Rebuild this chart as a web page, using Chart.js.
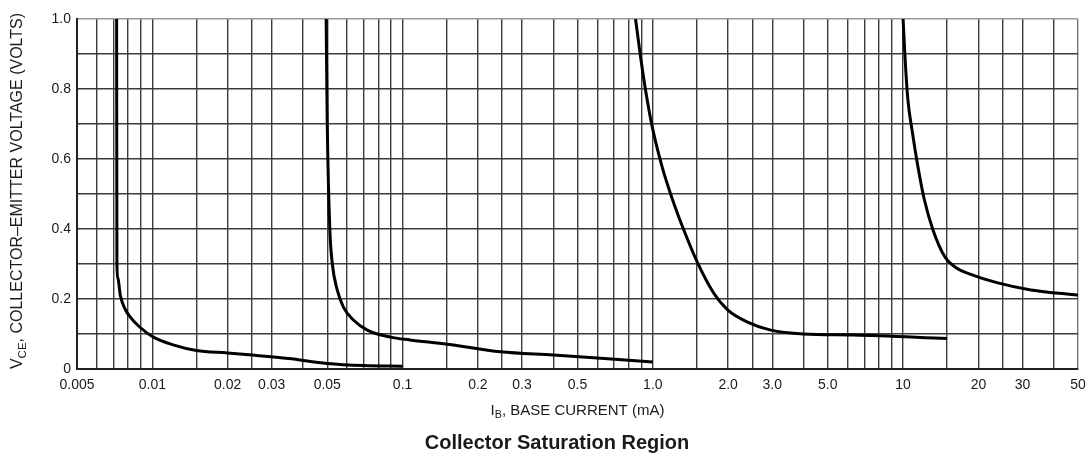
<!DOCTYPE html>
<html>
<head>
<meta charset="utf-8">
<script src="https://cdn.jsdelivr.net/npm/chart.js@4.4.1/dist/chart.umd.min.js"></script>
<style>
  html, body { margin: 0; padding: 0; background: #fff; }
  #wrap { width: 1089px; height: 459px; }
</style>
</head>
<body>
<div id="wrap"><canvas id="chartOne" width="1089" height="459"></canvas></div>
<script>
// IB (mA) and VCE (V), one pair of arrays per curve
const curveOneIB  = [0.0072, 0.00722, 0.00728, 0.00745, 0.0078, 0.00815, 0.0089, 0.0101, 0.0121, 0.015, 0.02, 0.025, 0.035, 0.05, 0.07, 0.1];
const curveOneVCE = [1.0, 0.30, 0.26, 0.21, 0.17, 0.149, 0.12, 0.091, 0.069, 0.053, 0.046, 0.040, 0.030, 0.016, 0.010, 0.008];

const curveTwoIB  = [0.0495, 0.0500, 0.0512, 0.0524, 0.0548, 0.058, 0.0636, 0.0723, 0.0893, 0.107, 0.151, 0.246, 0.40, 0.62, 1.0];
const curveTwoVCE = [1.0, 0.7, 0.4, 0.30, 0.226, 0.177, 0.14, 0.111, 0.091, 0.083, 0.071, 0.049, 0.040, 0.031, 0.020];

const curveThreeIB  = [0.853, 0.89, 0.935, 0.995, 1.09, 1.2, 1.33, 1.51, 1.75, 1.99, 2.39, 2.96, 4.0, 6.35, 15];
const curveThreeVCE = [1.0, 0.9, 0.797, 0.691, 0.577, 0.483, 0.397, 0.303, 0.217, 0.169, 0.134, 0.111, 0.100, 0.097, 0.087];

const curveFourIB  = [10.0, 10.2, 10.45, 10.9, 11.45, 12.15, 13.2, 14.7, 16.4, 18.4, 23.9, 32.4, 50];
const curveFourVCE = [1.0, 0.88, 0.77, 0.675, 0.58, 0.485, 0.395, 0.32, 0.288, 0.272, 0.246, 0.226, 0.211];

// tick labels
const xTickValues = [0.005, 0.01, 0.02, 0.03, 0.05, 0.1, 0.2, 0.3, 0.5, 1, 2, 3, 5, 10, 20, 30, 50];
const xTickText   = ['0.005', '0.01', '0.02', '0.03', '0.05', '0.1', '0.2', '0.3', '0.5', '1.0', '2.0', '3.0', '5.0', '10', '20', '30', '50'];
const yTickValues = [0, 0.2, 0.4, 0.6, 0.8, 1.0];
const yTickText   = ['0', '0.2', '0.4', '0.6', '0.8', '1.0'];

// grid lines of the log paper
const xGrid = [0.005, 0.006, 0.007, 0.008, 0.009,
    0.01, 0.015, 0.02, 0.025, 0.03, 0.04, 0.05, 0.06, 0.07, 0.08, 0.09,
    0.1, 0.15, 0.2, 0.25, 0.3, 0.4, 0.5, 0.6, 0.7, 0.8, 0.9,
    1, 1.5, 2, 2.5, 3, 4, 5, 6, 7, 8, 9,
    10, 15, 20, 25, 30, 40, 50];
const yGrid = [0, 0.1, 0.2, 0.3, 0.4, 0.5, 0.6, 0.7, 0.8, 0.9, 1.0];

function toPoints(xs, ys) {
    return xs.map((x, i) => ({ x: x, y: ys[i] }));
}

function findText(values, texts, v) {
    for (let i = 0; i < values.length; i++) {
        if (Math.abs(values[i] - v) < 1e-9 + values[i] * 1e-6) return texts[i];
    }
    return '';
}

function curve(label, xs, ys) {
    return {
        label: label,
        data: toPoints(xs, ys),
        borderColor: '#000',
        borderWidth: 3,
        pointRadius: 0,
        fill: false,
        cubicInterpolationMode: 'monotone'
    };
}

// draws a string made of parts, some of them subscripts, centred on (cx, cy)
function drawParts(ctx, parts, cx, cy, size, weight) {
    const family = '"Liberation Sans", Arial, sans-serif';
    let total = 0;
    parts.forEach(p => {
        ctx.font = weight + ' ' + (p.sub ? size * 0.72 : size) + 'px ' + family;
        p.w = ctx.measureText(p.t).width;
        total += p.w;
    });
    let x = cx - total / 2;
    ctx.textBaseline = 'middle';
    ctx.textAlign = 'left';
    parts.forEach(p => {
        ctx.font = weight + ' ' + (p.sub ? size * 0.72 : size) + 'px ' + family;
        ctx.fillText(p.t, x, p.sub ? cy + size * 0.3 : cy);
        x += p.w;
    });
}

const titlesPlugin = {
    id: 'titles',
    afterDraw(chart) {
        const ctx = chart.ctx;
        const area = chart.chartArea;
        ctx.save();
        ctx.fillStyle = '#1a1a1a';
        drawParts(ctx, [{ t: 'I' }, { t: 'B', sub: true }, { t: ', BASE CURRENT (mA)' }],
            (area.left + area.right) / 2, 411, 15, 'normal');
        drawParts(ctx, [{ t: 'Collector Saturation Region' }], 557, 443, 20, 'bold');
        ctx.translate(18, 191);
        ctx.rotate(-Math.PI / 2);
        drawParts(ctx, [{ t: 'V' }, { t: 'CE', sub: true }, { t: ', COLLECTOR\u2013EMITTER VOLTAGE (VOLTS)' }],
            0, 0, 16, 'normal');
        ctx.restore();
    }
};

function getChartOne() {
    const ctxOne = document.getElementById('chartOne').getContext('2d');
    return new Chart(ctxOne, {
        type: 'line',
        data: {
            datasets: [
                curve('Curve 1', curveOneIB, curveOneVCE),
                curve('Curve 2', curveTwoIB, curveTwoVCE),
                curve('Curve 3', curveThreeIB, curveThreeVCE),
                curve('Curve 4', curveFourIB, curveFourVCE)
            ]
        },
        options: {
            responsive: false,
            animation: false,
            layout: { padding: { left: 0, right: 11, top: 19, bottom: 0 } },
            plugins: {
                legend: { display: false },
                tooltip: { enabled: false }
            },
            scales: {
                x: {
                    type: 'logarithmic',
                    min: 0.005,
                    max: 50,
                    afterBuildTicks: (axis) => { axis.ticks = xGrid.map(v => ({ value: v })); },
                    afterFit: (axis) => { axis.height = 90; axis.paddingLeft = 0; axis.paddingRight = 0; },
                    grid: {
                        color: (c) => (c.tick && c.tick.value === 50 ? '#777' : '#3c3c3c'),
                        lineWidth: 1.4,
                        drawTicks: false
                    },
                    border: { color: '#222', width: 2 },
                    ticks: {
                        autoSkip: false,
                        maxRotation: 0,
                        padding: 8,
                        color: '#1a1a1a',
                        font: { family: '"Liberation Sans", Arial, sans-serif', size: 14 },
                        callback: (value) => findText(xTickValues, xTickText, value)
                    }
                },
                y: {
                    type: 'linear',
                    min: 0,
                    max: 1,
                    afterBuildTicks: (axis) => { axis.ticks = yGrid.map(v => ({ value: v })); },
                    afterFit: (axis) => { axis.width = 77; axis.paddingTop = 0; axis.paddingBottom = 0; },
                    grid: {
                        color: (c) => (c.tick && c.tick.value === 1.0 ? '#999' : '#3c3c3c'),
                        lineWidth: 1.5,
                        drawTicks: false
                    },
                    border: { color: '#222', width: 2 },
                    ticks: {
                        autoSkip: false,
                        padding: 6,
                        color: '#1a1a1a',
                        font: { family: '"Liberation Sans", Arial, sans-serif', size: 14 },
                        callback: (value) => findText(yTickValues, yTickText, value)
                    }
                }
            }
        },
        plugins: [titlesPlugin]
    });
}

getChartOne();
</script>
</body>
</html>
